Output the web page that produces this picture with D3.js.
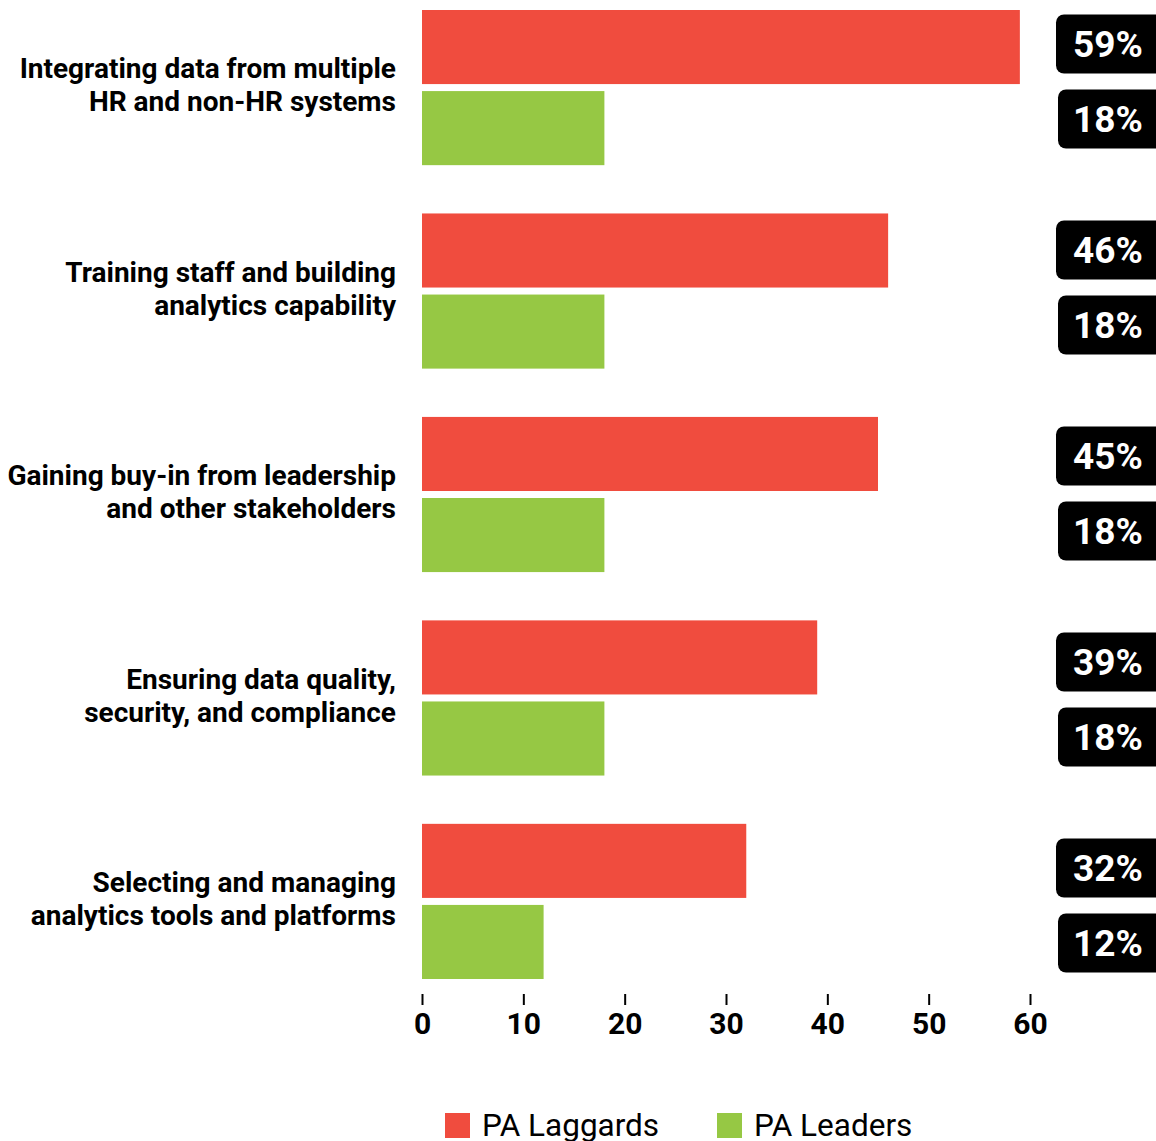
<!DOCTYPE html>
<html>
<head>
<meta charset="utf-8">
<script src="https://cdn.jsdelivr.net/npm/d3@7"></script>
<style>
  html, body { margin: 0; padding: 0; background: #fff; }
  svg { display: block; font-family: Roboto, "Noto Sans", sans-serif; }
</style>
</head>
<body>
<svg id="chart" width="1156" height="1141"></svg>
<script>
const categories = [
  ["Integrating data from multiple", "HR and non-HR systems"],
  ["Training staff and building", "analytics capability"],
  ["Gaining buy-in from leadership", "and other stakeholders"],
  ["Ensuring data quality,", "security, and compliance"],
  ["Selecting and managing", "analytics tools and platforms"]
];
const seriesNames = ["PA Laggards", "PA Leaders"];
const laggards = [59, 46, 45, 39, 32];
const leaders = [18, 18, 18, 18, 12];
const xTicks = [0, 10, 20, 30, 40, 50, 60];
const colors = ["#f04c3e", "#96c844"];

const catKeys = categories.map(c => c.join(" "));
const data = catKeys.map((k, i) => ({ key: k, lines: categories[i], values: [laggards[i], leaders[i]] }));

const svg = d3.select("#chart");

const x = d3.scaleLinear().domain([0, 60]).range([422, 1030]);
const y0 = d3.scaleBand().domain(catKeys).range([10, 979]).paddingInner(0.2374).paddingOuter(0);
const y1 = d3.scaleBand().domain(seriesNames).range([0, y0.bandwidth()]).paddingInner(7 / 81);
const yBadge = d3.scalePoint().domain(catKeys).range([81.5, 905.5]);

// bars
const groups = svg.append("g").selectAll("g").data(data).join("g")
  .attr("transform", d => `translate(0,${y0(d.key)})`);

groups.selectAll("rect").data(d => d.values.map((v, j) => ({ v, s: seriesNames[j], j })))
  .join("rect")
  .attr("x", x(0))
  .attr("y", d => y1(d.s))
  .attr("height", y1.bandwidth())
  .attr("width", d => x(d.v) - x(0))
  .attr("fill", d => colors[d.j]);

// category labels
const labels = svg.append("g").selectAll("text").data(data).join("text")
  .attr("x", 396)
  .attr("y", d => y0(d.key) + y0.bandwidth() / 2 - 2)
  .attr("text-anchor", "end")
  .attr("font-size", 28)
  .attr("font-weight", 700)
  .attr("fill", "#000");
labels.selectAll("tspan").data(d => d.lines).join("tspan")
  .attr("x", 396)
  .attr("dy", (d, i) => i === 0 ? "-0.26em" : "1.18em")
  .text(d => d);

// value badges
const badgeData = [];
data.forEach(d => d.values.forEach((v, j) => badgeData.push({ key: d.key, v, j })));
const badges = svg.append("g").selectAll("g").data(badgeData).join("g")
  .attr("transform", d => `translate(${d.j === 0 ? 1056 : 1058},${yBadge(d.key) + (d.j === 0 ? -37.5 : 37.5)})`);
badges.append("rect")
  .attr("x", 0).attr("y", -29.5).attr("width", 130).attr("height", 59)
  .attr("rx", 8).attr("ry", 8)
  .attr("fill", "#000");
badges.append("text")
  .attr("x", d => d.j === 0 ? 52 : 50)
  .attr("y", 0)
  .attr("dy", "0.35em")
  .attr("text-anchor", "middle")
  .attr("font-size", 37)
  .attr("font-weight", 700)
  .attr("fill", "#fff")
  .text(d => d.v + "%");

// x axis
const axis = svg.append("g")
  .attr("transform", "translate(0,994)")
  .call(d3.axisBottom(x).tickValues(xTicks).tickSize(11).tickPadding(8).tickFormat(d3.format("d")));
axis.select(".domain").remove();
axis.selectAll(".tick line").attr("stroke", "#000").attr("stroke-width", 2);
axis.selectAll(".tick text")
  .attr("font-family", "Roboto, sans-serif")
  .attr("font-size", 30)
  .attr("font-weight", 700)
  .attr("fill", "#000");

// legend
const legendX = [445, 717];
const legend = svg.append("g").selectAll("g").data(seriesNames).join("g")
  .attr("transform", (d, i) => `translate(${legendX[i]},1113)`);
legend.append("rect").attr("width", 25).attr("height", 25).attr("fill", (d, i) => colors[i]);
legend.append("text")
  .attr("x", 37).attr("y", 23)
  .attr("font-size", 31.5)
  .attr("font-weight", 400)
  .attr("fill", "#000")
  .text(d => d);
</script>
</body>
</html>
